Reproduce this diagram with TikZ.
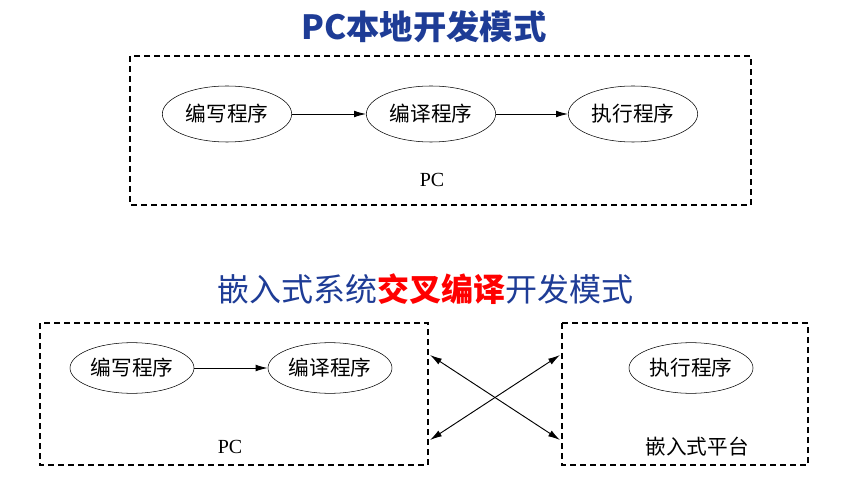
\documentclass[tikz,border=0pt]{standalone}
\usepackage{fontspec}
\setmainfont{Liberation Serif}
\newfontfamily\cjk{Noto Sans CJK SC}
\usetikzlibrary{arrows.meta,shapes.geometric}
\definecolor{tblue}{RGB}{30,60,150}
\begin{document}
\begin{tikzpicture}[x=0.75pt,y=-0.75pt,
  el/.style={draw,ellipse,minimum width=97pt,minimum height=42pt,inner sep=0pt,font=\cjk\fontsize{15.5}{17}\selectfont},
  elb/.style={draw,ellipse,minimum width=93pt,minimum height=38pt,inner sep=0pt,font=\cjk\fontsize{15.5}{17}\selectfont},
  box/.style={draw,dash pattern=on 4.5pt off 3pt,line width=0.8pt},
  lab/.style={font=\fontsize{15}{17}\selectfont},
  arr/.style={-{Latex[length=9pt,width=5pt]},line width=0.7pt}]
\useasboundingbox (0,0) rectangle (866,484);
\node[font=\cjk\bfseries\fontsize{25}{27}\selectfont,text=tblue] (t1) at (424,27) {PC本地开发模式};
\draw[box] (130,56) rectangle (751,205);
\node[el] (a1) at (227,114) {编写程序};
\node[el] (a2) at (431,114) {编译程序};
\node[el] (a3) at (633,114) {执行程序};
\node[lab] (pc1) at (432,180) {PC};
\draw[arr] (a1) -- (a2);
\draw[arr] (a2) -- (a3);
\node[font=\cjk\fontsize{24}{26}\selectfont,text=tblue] (t2) at (425,289) {嵌入式系统{\bfseries\color{red}交叉编译}开发模式};
\draw[box] (40,323) rectangle (428,465);
\draw[box] (562,323) rectangle (808,465);
\node[elb] (b1) at (132,368) {编写程序};
\node[elb] (b2) at (330,368) {编译程序};
\node[elb] (b3) at (691,368) {执行程序};
\node[lab] (pc2) at (230,447) {PC};
\node[font=\cjk\fontsize{15.5}{17}\selectfont] (emb) at (697,447) {嵌入式平台};
\draw[arr] (b1) -- (b2);
\coordinate (p1) at (430,355);
\coordinate (p2) at (560,440);
\coordinate (p3) at (430,440);
\coordinate (p4) at (560,355);
\draw[line width=0.7pt,{Latex[length=9pt,width=5pt]}-{Latex[length=9pt,width=5pt]}] (p1) -- (p2);
\draw[line width=0.7pt,{Latex[length=9pt,width=5pt]}-{Latex[length=9pt,width=5pt]}] (p3) -- (p4);
\end{tikzpicture}
\end{document}
